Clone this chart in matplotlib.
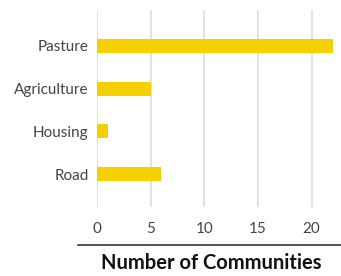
import matplotlib
matplotlib.use("Agg")
import matplotlib.pyplot as plt
from matplotlib.lines import Line2D

categories = ["Road", "Housing", "Agriculture", "Pasture"]
counts = [6, 1, 5, 22]
ticks = [0, 5, 10, 15, 20]

plt.rcParams['font.family'] = ['Lato', 'DejaVu Sans']

W, H = 341, 276
fig = plt.figure(figsize=(W / 100, H / 100), dpi=100)
ax = fig.add_axes([97 / W, 1 - 207 / H, (333 - 97) / W, (207 - 10) / H])

ax.barh(range(len(categories)), counts, height=0.33, color="#F5D000", zorder=2)
ax.set_xlim(0, 22)
ax.set_ylim(-0.77, 3.84)
ax.set_yticks(range(len(categories)))
ax.set_yticklabels(categories, fontsize=11, color="#444444")
ax.set_xticks(ticks)
ax.set_xticklabels([str(t) for t in ticks], fontsize=11, color="#444444")
ax.tick_params(length=0)
ax.tick_params(axis="x", pad=11)
ax.tick_params(axis="y", pad=6)
ax.grid(axis="x", color="#dddddd", linewidth=1.2, zorder=0)
for s in ax.spines.values():
    s.set_visible(False)

fig.add_artist(Line2D([78 / W, 1], [1 - 245 / H, 1 - 245 / H], color="#222222", linewidth=1.1))
fig.text(211 / W, 1 - 263 / H, "Number of Communities", ha="center", va="center",
         fontsize=14.5, fontweight="bold", color="#111111")

fig.savefig("out.png", dpi=100)
